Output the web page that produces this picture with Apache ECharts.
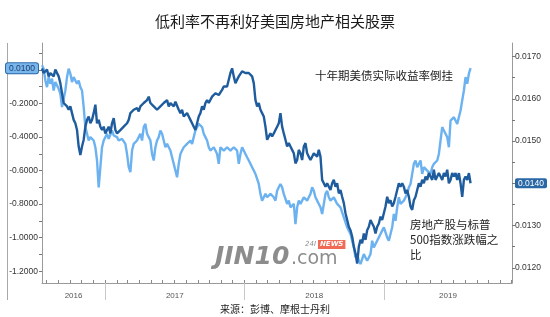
<!DOCTYPE html>
<html>
<head>
<meta charset="utf-8">
<script src="https://cdn.jsdelivr.net/npm/echarts@6/dist/echarts.min.js"></script>
<style>
html,body{margin:0;padding:0;background:#fff;}
#chart{width:550px;height:317px;}
</style>
</head>
<body>
<div id="chart"></div>
<script>
// ---- data ----
const titleText = '低利率不再利好美国房地产相关股票';
const sourceText = '来源：彭博、摩根士丹利';
const lightName = '十年期美债实际收益率倒挂';
const darkName = '房地产股与标普\n500指数涨跌幅之\n比';
const startDate = '2016-07-20';
const stepDays = 4.364;
const axisStart = '2016-07-20';
const axisEnd = '2019-12-02';
const yearLabels = ['2016', '2017', '2018', '2019'];
const leftTickLabels = [-1.2, -1.0, -0.8, -0.6, -0.4, -0.2];
const rightTickLabels = [0.012, 0.013, 0.014, 0.015, 0.016, 0.017];

// light blue series (left axis)
const lightValues = [
 0.027,0.007,-0.063,-0.103,-0.043,-0.083,-0.053,-0.123,-0.073,-0.083,
 -0.113,-0.142,-0.222,-0.212,-0.123,-0.043,0.007,-0.023,-0.073,-0.043,
 -0.063,-0.083,-0.063,-0.103,-0.123,-0.222,-0.341,-0.381,-0.421,-0.401,
 -0.411,-0.421,-0.461,-0.540,-0.700,-0.580,-0.461,-0.421,-0.401,-0.381,
 -0.411,-0.401,-0.361,-0.391,-0.381,-0.401,-0.421,-0.421,-0.411,-0.401,
 -0.441,-0.501,-0.580,-0.610,-0.481,-0.441,-0.431,-0.421,-0.401,-0.381,
 -0.421,-0.341,-0.322,-0.381,-0.401,-0.421,-0.501,-0.540,-0.461,-0.421,
 -0.401,-0.361,-0.381,-0.421,-0.461,-0.441,-0.461,-0.481,-0.521,-0.560,
 -0.600,-0.640,-0.560,-0.501,-0.481,-0.461,-0.451,-0.441,-0.431,-0.421,
 -0.441,-0.401,-0.361,-0.341,-0.322,-0.312,-0.341,-0.381,-0.401,-0.421,
 -0.461,-0.481,-0.471,-0.461,-0.481,-0.501,-0.560,-0.461,-0.471,-0.481,
 -0.471,-0.461,-0.471,-0.481,-0.471,-0.461,-0.471,-0.481,-0.560,-0.501,
 -0.461,-0.481,-0.501,-0.521,-0.540,-0.560,-0.580,-0.600,-0.620,-0.650,
 -0.680,-0.739,-0.779,-0.759,-0.739,-0.759,-0.749,-0.739,-0.749,-0.759,
 -0.779,-0.720,-0.700,-0.680,-0.700,-0.739,-0.769,-0.799,-0.779,-0.819,
 -0.809,-0.799,-0.919,-0.819,-0.779,-0.799,-0.779,-0.759,-0.769,-0.779,
 -0.759,-0.739,-0.700,-0.720,-0.759,-0.779,-0.799,-0.819,-0.859,-0.799,
 -0.739,-0.720,-0.759,-0.779,-0.769,-0.759,-0.779,-0.799,-0.809,-0.819,
 -0.849,-0.879,-0.909,-0.938,-0.958,-0.978,-1.018,-1.058,-1.118,-1.098,
 -1.137,-1.157,-1.127,-1.098,-1.118,-1.137,-1.118,-1.098,-1.018,-1.058,
 -1.038,-1.018,-0.998,-0.978,-0.958,-0.938,-0.968,-0.998,-1.018,-0.978,
 -0.938,-0.859,-0.899,-0.819,-0.759,-0.799,-0.789,-0.779,-0.759,-0.739,
 -0.700,-0.680,-0.620,-0.560,-0.540,-0.580,-0.560,-0.540,-0.620,-0.580,
 -0.590,-0.600,-0.610,-0.620,-0.580,-0.560,-0.550,-0.540,-0.501,-0.421,
 -0.341,-0.361,-0.381,-0.401,-0.461,-0.302,-0.292,-0.282,-0.302,-0.322,
 -0.282,-0.242,-0.182,-0.123,-0.043,-0.083,-0.023,0.010
];

// dark blue series (right axis)
const darkValues = [
 0.01672,0.01661,0.01665,0.01669,0.01653,0.01661,0.01657,0.01653,0.01669,0.01665,
 0.01653,0.01637,0.01613,0.01590,0.01593,0.01582,0.01574,0.01582,0.01566,0.01550,
 0.01542,0.01526,0.01487,0.01467,0.01487,0.01503,0.01534,0.01550,0.01558,0.01542,
 0.01550,0.01566,0.01586,0.01542,0.01550,0.01534,0.01526,0.01534,0.01518,0.01526,
 0.01534,0.01518,0.01542,0.01554,0.01526,0.01518,0.01522,0.01526,0.01530,0.01534,
 0.01538,0.01542,0.01550,0.01566,0.01570,0.01574,0.01574,0.01578,0.01570,0.01582,
 0.01586,0.01590,0.01593,0.01597,0.01605,0.01590,0.01586,0.01582,0.01578,0.01574,
 0.01578,0.01582,0.01586,0.01590,0.01593,0.01597,0.01582,0.01590,0.01586,0.01582,
 0.01593,0.01590,0.01574,0.01566,0.01574,0.01558,0.01562,0.01566,0.01558,0.01550,
 0.01542,0.01534,0.01526,0.01542,0.01558,0.01566,0.01582,0.01574,0.01590,0.01597,
 0.01590,0.01593,0.01605,0.01601,0.01613,0.01617,0.01609,0.01613,0.01621,0.01629,
 0.01625,0.01629,0.01645,0.01661,0.01672,0.01653,0.01637,0.01645,0.01653,0.01657,
 0.01665,0.01665,0.01661,0.01657,0.01661,0.01661,0.01653,0.01637,0.01597,0.01582,
 0.01590,0.01574,0.01566,0.01558,0.01534,0.01503,0.01511,0.01518,0.01511,0.01518,
 0.01526,0.01534,0.01542,0.01566,0.01534,0.01518,0.01503,0.01487,0.01495,0.01487,
 0.01479,0.01471,0.01447,0.01455,0.01479,0.01471,0.01455,0.01487,0.01495,0.01471,
 0.01463,0.01455,0.01463,0.01471,0.01467,0.01463,0.01479,0.01463,0.01408,0.01400,
 0.01392,0.01400,0.01392,0.01384,0.01400,0.01408,0.01392,0.01400,0.01376,0.01384,
 0.01368,0.01353,0.01329,0.01313,0.01297,0.01289,0.01274,0.01250,0.01234,0.01210,
 0.01250,0.01266,0.01258,0.01281,0.01266,0.01289,0.01297,0.01313,0.01305,0.01297,
 0.01281,0.01297,0.01305,0.01321,0.01313,0.01329,0.01345,0.01368,0.01353,0.01360,
 0.01345,0.01353,0.01368,0.01384,0.01400,0.01392,0.01400,0.01392,0.01376,0.01384,
 0.01368,0.01345,0.01337,0.01360,0.01368,0.01384,0.01400,0.01392,0.01408,0.01400,
 0.01416,0.01408,0.01424,0.01416,0.01408,0.01432,0.01408,0.01416,0.01424,0.01416,
 0.01408,0.01424,0.01416,0.01432,0.01400,0.01408,0.01424,0.01416,0.01424,0.01408,
 0.01424,0.01400,0.01368,0.01408,0.01416,0.01408,0.01424,0.01400
];

// ---- build ----
const DAY = 86400000;
const t0 = new Date(startDate + 'T00:00:00Z').getTime();
const tMin = new Date(axisStart + 'T00:00:00Z').getTime();
const tMax = new Date(axisEnd + 'T00:00:00Z').getTime();
const toPairs = vals => vals.map((v, i) => [t0 + i * stepDays * DAY, v]);
const lightLast = lightValues[lightValues.length - 1];
const darkLast = darkValues[darkValues.length - 1];

const monthTicks = [];
{
  const d0 = new Date(tMin);
  let y = d0.getUTCFullYear(), m = d0.getUTCMonth() + 1;
  while (true) {
    const t = Date.UTC(y, m, 1);
    if (t > tMax) break;
    monthTicks.push(t);
    m++; if (m > 11) { m = 0; y++; }
  }
}
const yearBounds = [];
const yearMids = [];
yearLabels.forEach(ys => {
  const y = +ys;
  const a = Math.max(Date.UTC(y, 0, 1), tMin);
  const b = Math.min(Date.UTC(y + 1, 0, 1), tMax);
  yearMids.push((a + b) / 2);
  if (Date.UTC(y, 0, 1) > tMin) yearBounds.push(Date.UTC(y, 0, 1));
});

const leftLabelVals = leftTickLabels.concat([lightLast]);
const rightLabelVals = rightTickLabels.filter(v => Math.abs(v - darkLast) > 1e-7).concat([darkLast]);
const leftMinor = [];
for (let k = -12; k <= 1; k++) leftMinor.push(k / 10);
const rightMinor = [];
for (let k = 24; k <= 34; k++) rightMinor.push(k * 0.0005);

const numFont = 'Liberation Sans';
const cjk = 'Noto Sans CJK SC';

const chart = echarts.init(document.getElementById('chart'), null, {renderer: 'canvas'});
chart.setOption({
  animation: false,
  backgroundColor: '#fff',
  grid: {left: 42, right: 38, top: 43, bottom: 34, containLabel: false},
  xAxis: [
    {
      type: 'value', min: tMin, max: tMax, position: 'bottom',
      axisLine: {show: true, onZero: false, lineStyle: {color: '#9a9a9a', width: 1}},
      axisTick: {show: true, inside: true, length: 3, customValues: monthTicks, lineStyle: {color: '#888'}},
      axisLabel: {show: false},
      splitLine: {show: false}
    },
    {
      type: 'value', min: tMin, max: tMax, position: 'bottom',
      axisLine: {show: false, onZero: false},
      axisTick: {show: true, length: 17, customValues: yearBounds, lineStyle: {color: '#c8c8c8'}},
      axisLabel: {show: true, customValues: yearMids, margin: 9, fontFamily: numFont, fontSize: 8, color: '#555',
        formatter: v => String(new Date(v).getUTCFullYear())},
      splitLine: {show: false}
    }
  ],
  yAxis: [
    {
      type: 'value', position: 'left', min: -1.27, max: 0.16,
      axisLine: {show: true, onZero: false, lineStyle: {color: '#9a9a9a'}},
      axisTick: {show: true, length: 3, customValues: leftMinor, lineStyle: {color: '#777'}},
      axisLabel: {
        customValues: leftLabelVals, margin: 4, fontFamily: numFont, fontSize: 8.5, color: '#333',
        formatter: v => Math.abs(v - lightLast) < 1e-9 ? '{box|' + v.toFixed(4) + '}' : v.toFixed(4),
        rich: {box: {backgroundColor: '#78b6ee', borderColor: '#2d6aa6', borderWidth: 1, borderRadius: 2,
          padding: [1, 3, 0, 3], color: '#1d3d66', fontFamily: numFont, fontSize: 8.5}}
      },
      splitLine: {show: false}
    },
    {
      type: 'value', position: 'right', min: 0.01164, max: 0.01732,
      axisLine: {show: true, onZero: false, lineStyle: {color: '#9a9a9a'}},
      axisTick: {show: true, length: 3, customValues: rightMinor, lineStyle: {color: '#777'}},
      axisLabel: {
        customValues: rightLabelVals, margin: 3, fontFamily: numFont, fontSize: 8.5, color: '#333',
        formatter: v => Math.abs(v - darkLast) < 1e-9 ? '{box|' + v.toFixed(4) + '}' : v.toFixed(4),
        rich: {box: {backgroundColor: '#2a67a5', borderRadius: 2, padding: [1, 3, 0, 3], color: '#fff',
          fontFamily: numFont, fontSize: 8.5}}
      },
      splitLine: {show: false}
    }
  ],
  series: [
    {
      name: lightName, type: 'line', xAxisIndex: 0, yAxisIndex: 0,
      data: toPairs(lightValues), showSymbol: false, sampling: 'none',
      lineStyle: {color: '#6cb2f0', width: 2.4}, itemStyle: {color: '#6cb2f0'}, z: 3
    },
    {
      name: darkName, type: 'line', xAxisIndex: 0, yAxisIndex: 1,
      data: toPairs(darkValues), showSymbol: false, sampling: 'none',
      lineStyle: {color: '#1f5c9e', width: 2.4}, itemStyle: {color: '#1f5c9e'}, z: 4
    }
  ],
  graphic: [
    {type: 'text', left: 'center', top: 14, style: {text: titleText, font: '15px "' + cjk + '"', fill: '#1a1a1a', textAlign: 'center'}},
    {type: 'line', shape: {x1: 7.5, y1: 43, x2: 7.5, y2: 300}, style: {stroke: '#a8a8a8', lineWidth: 1}},
    {type: 'text', left: 315, top: 70, style: {text: lightName, font: '11.5px "' + cjk + '"', fill: '#222'}},
    {type: 'text', left: 410, top: 217, style: {text: darkName, font: '11.5px "' + cjk + '"', fill: '#222', lineHeight: 15}},
    {type: 'text', left: 215, top: 245, z: 1, style: {text: 'JIN10', font: 'italic bold 25px "DejaVu Sans"', fill: 'rgba(120,120,120,0.85)'}},
    {type: 'text', left: 291, top: 250, z: 1, style: {text: '.com', font: '19px "DejaVu Sans"', fill: 'rgba(120,120,120,0.85)'}},
    {type: 'text', left: 305, top: 241, z: 1, style: {text: '24I', font: 'italic 7px "DejaVu Sans"', fill: 'rgba(120,120,120,0.85)'}},
    {type: 'text', left: 318, top: 240, z: 1, style: {text: 'NEWS', font: 'bold italic 7px "DejaVu Sans"', fill: '#fff', backgroundColor: '#f06a55', padding: [1, 2]}},
    {type: 'text', left: 'center', top: 304, style: {text: sourceText, font: '10px "' + cjk + '"', fill: '#222', textAlign: 'center'}}
  ]
});
</script>
</body>
</html>
